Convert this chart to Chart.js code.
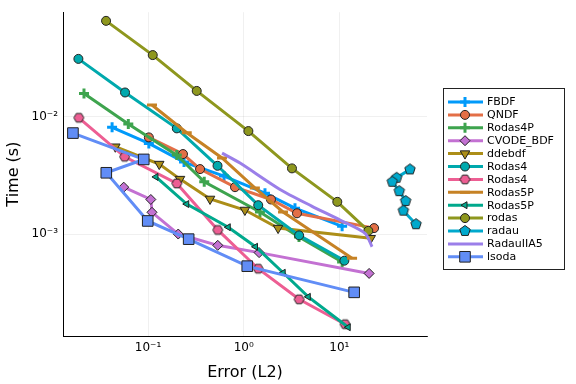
<!DOCTYPE html>
<html>
<head>
<meta charset="utf-8">
<script src="https://cdn.jsdelivr.net/npm/chart.js@4.4.0/dist/chart.umd.min.js"></script>
<style>
  html, body { margin: 0; padding: 0; background: #fff; }
  #wrap { width: 576px; height: 384px; }
</style>
</head>
<body>
<div id="wrap"><canvas id="benchChart" width="576" height="384"></canvas></div>
<script>
// work-precision data (error L2, time s)
const fbdfErr = [0.0421, 0.102, 0.238, 0.623, 1.67, 3.44, 10.7];
const fbdfTime = [0.00813, 0.00594, 0.00412, 0.00313, 0.00224, 0.00167, 0.00117];

const qndfErr = [0.102, 0.232, 0.35, 0.812, 1.93, 3.61, 23.1];
const qndfTime = [0.00668, 0.00482, 0.00359, 0.00252, 0.00198, 0.00151, 0.00113];

const rodas4pErr = [0.0214, 0.0622, 0.2, 0.387, 1.48, 3.79, 10.7];
const rodas4pTime = [0.0158, 0.00867, 0.00472, 0.0028, 0.00155, 0.000948, 0.000581];

const cvodeErr = [0.0557, 0.107, 0.11, 0.207, 0.536, 1.45, 20.5];
const cvodeTime = [0.00252, 0.00198, 0.00154, 0.001006, 0.000806, 0.000699, 0.000465];

const ddebdfErr = [0.0455, 0.131, 0.216, 0.445, 1.03, 2.29, 21.3];
const ddebdfTime = [0.00556, 0.00396, 0.00295, 0.002, 0.00161, 0.00113, 0.000926];

const rodas4Err = [0.0187, 0.0575, 0.2, 0.533, 1.42, 3.8, 11.3];
const rodas4Time = [0.0311, 0.0161, 0.00797, 0.00383, 0.00177, 0.00098, 0.000597];

const rodas4bErr = [0.0189, 0.057, 0.2, 0.536, 1.42, 3.8, 11.5];
const rodas4bTime = [0.00981, 0.00457, 0.00271, 0.00109, 0.00051, 0.00028, 0.000172];

const rodas5pErr = [0.11, 0.254, 0.594, 1.31, 2.58, 13.6];
const rodas5pTime = [0.0126, 0.00731, 0.00446, 0.00248, 0.00155, 0.000627];

const rodas5pbErr = [0.121, 0.254, 0.69, 1.33, 2.59, 4.74, 12.4];
const rodas5pbTime = [0.00308, 0.00181, 0.00115, 0.000784, 0.000471, 0.000294, 0.000162];

const rodasErr = [0.0364, 0.112, 0.323, 1.12, 3.2, 9.53, 20.1];
const rodasTime = [0.0655, 0.0335, 0.0166, 0.00756, 0.00364, 0.00189, 0.00107];

const radauErr = [54.8, 39.8, 35.8, 42.4, 49.4, 46.7, 63.4];
const radauTime = [0.00357, 0.00303, 0.0028, 0.00233, 0.00192, 0.00159, 0.00122];

const radau5Err = [0.594, 0.916, 2.4, 5.14, 10.2, 18.6, 22.0];
const radau5Time = [0.00491, 0.00404, 0.00241, 0.00174, 0.00132, 0.00102, 0.000784];

const lsodaErr = [0.0164, 0.0902, 0.0366, 0.0993, 0.266, 1.09, 14.3];
const lsodaTime = [0.00727, 0.00434, 0.00334, 0.0013, 0.00091, 0.000536, 0.000321];

const xTickValues = [0.1, 1, 10];
const xTickLabels = ["10⁻¹", "10⁰", "10¹"];
const yTickValues = [0.001, 0.01];
const yTickLabels = ["10⁻³", "10⁻²"];

Chart.defaults.font.family = "'DejaVu Sans', sans-serif";
Chart.defaults.color = "#000";

function pts(xs, ys) {
  return xs.map((x, i) => ({ x: x, y: ys[i] }));
}

// polygon markers (hexagon, pentagon) drawn on small canvases
function polyMarker(n, r, fill, rot) {
  const size = Math.ceil(r * 2 + 3);
  const cv = document.createElement("canvas");
  cv.width = size;
  cv.height = size;
  const g = cv.getContext("2d");
  g.beginPath();
  for (let k = 0; k < n; k++) {
    const a = rot + (k * 2 * Math.PI) / n;
    const px = size / 2 + r * Math.cos(a);
    const py = size / 2 + r * Math.sin(a);
    if (k === 0) g.moveTo(px, py);
    else g.lineTo(px, py);
  }
  g.closePath();
  g.fillStyle = fill;
  g.fill();
  g.lineWidth = 1;
  g.strokeStyle = "#222";
  g.stroke();
  return cv;
}

function series(label, xs, ys, color, marker) {
  return Object.assign({
    label: label,
    data: pts(xs, ys),
    showLine: true,
    borderColor: color,
    backgroundColor: color,
    borderWidth: 3,
    pointBackgroundColor: color,
    pointBorderColor: "#222",
    pointBorderWidth: 1,
    pointRadius: 4.5,
    pointHoverRadius: 4.5,
    pointStyle: "circle",
    pointRotation: 0,
    tension: 0,
  }, marker);
}

const datasets = [
  series("FBDF", fbdfErr, fbdfTime, "#009AFA", { pointStyle: "cross", pointBorderColor: "#009AFA", pointBorderWidth: 3, pointRadius: 5 }),
  series("QNDF", qndfErr, qndfTime, "#E36F47", {}),
  series("Rodas4P", rodas4pErr, rodas4pTime, "#3EA44E", { pointStyle: "cross", pointBorderColor: "#3EA44E", pointBorderWidth: 3, pointRadius: 5 }),
  series("CVODE_BDF", cvodeErr, cvodeTime, "#C371D2", { pointStyle: "rectRot", pointRadius: 5 }),
  series("ddebdf", ddebdfErr, ddebdfTime, "#AC8E18", { pointStyle: "triangle", pointRotation: 180, pointRadius: 5.5 }),
  series("Rodas4", rodas4Err, rodas4Time, "#00A9AD", {}),
  series("Rodas4", rodas4bErr, rodas4bTime, "#ED5E93", { pointStyle: polyMarker(6, 5, "#ED5E93", 0) }),
  series("Rodas5P", rodas5pErr, rodas5pTime, "#C68225", { pointStyle: "line", pointBorderColor: "#C68225", pointBorderWidth: 3, pointRadius: 5 }),
  series("Rodas5P", rodas5pbErr, rodas5pbTime, "#00A98D", { pointStyle: "triangle", pointRotation: -90, pointRadius: 4 }),
  series("rodas", rodasErr, rodasTime, "#8E971E", {}),
  series("radau", radauErr, radauTime, "#00A9CD", { pointStyle: polyMarker(5, 5.5, "#00A9CD", -Math.PI / 2) }),
  series("RadauIIA5", radau5Err, radau5Time, "#9B7FE9", { pointRadius: 0, pointHoverRadius: 0, tension: 0.25 }),
  series("lsoda", lsodaErr, lsodaTime, "#618DF6", { pointStyle: "rect", pointRadius: 7.5 }),
];
// later series drawn on top, like the original
datasets.forEach((d, i) => { d.order = -i; });

const legendBox = {
  id: "legendBox",
  afterDraw(chart) {
    const c = chart.ctx;
    const left = 443.5, top = 88.5, w = 121, h = 181, rowH = 12.9;
    c.save();
    c.fillStyle = "#fff";
    c.fillRect(left, top, w, h);
    c.strokeStyle = "#222";
    c.lineWidth = 1;
    c.strokeRect(left, top, w, h);
    c.font = "11px 'DejaVu Sans'";
    c.textBaseline = "middle";
    chart.data.datasets.forEach((ds, i) => {
      const y = top + 13.5 + i * rowH;
      c.strokeStyle = ds.borderColor;
      c.lineWidth = 3;
      c.beginPath();
      c.moveTo(448, y);
      c.lineTo(483, y);
      c.stroke();
      if (ds.pointRadius > 0) {
        c.fillStyle = ds.pointBackgroundColor;
        c.strokeStyle = ds.pointBorderColor;
        c.lineWidth = ds.pointBorderWidth;
        Chart.helpers.drawPoint(c, {
          pointStyle: ds.pointStyle,
          rotation: ds.pointRotation,
          radius: ds.pointRadius,
          borderWidth: ds.pointBorderWidth,
        }, 465, y);
      }
      c.fillStyle = "#000";
      c.fillText(ds.label, 487, y + 0.5);
    });
    c.restore();
  },
};

new Chart(document.getElementById("benchChart"), {
  type: "scatter",
  data: { datasets: datasets },
  options: {
    responsive: false,
    animation: false,
    devicePixelRatio: 1,
    layout: { padding: { left: 0, right: 149, top: 12, bottom: 0 } },
    plugins: { legend: { display: false }, tooltip: { enabled: false } },
    scales: {
      x: {
        type: "logarithmic",
        min: 0.01291,
        max: 82.6,
        afterBuildTicks: (s) => { s.ticks = xTickValues.map((v) => ({ value: v })); },
        afterFit: (s) => { s.height = 48; },
        ticks: {
          callback: (v) => xTickLabels[xTickValues.indexOf(v)],
          font: { size: 12 },
          color: "#000",
          padding: 5,
          maxRotation: 0,
          autoSkip: false,
        },
        grid: { color: "rgba(0,0,0,0.1)", lineWidth: 0.6, drawTicks: false },
        border: { display: true, color: "#000", width: 1 },
        title: { display: true, text: "Error (L2)", font: { size: 16 }, color: "#000", padding: { top: 0, bottom: 2 } },
      },
      y: {
        type: "logarithmic",
        min: 0.0001365,
        max: 0.0776,
        afterBuildTicks: (s) => { s.ticks = yTickValues.map((v) => ({ value: v })); },
        afterFit: (s) => { s.width = 63; },
        ticks: {
          callback: (v) => yTickLabels[yTickValues.indexOf(v)],
          font: { size: 12 },
          color: "#000",
          padding: 5,
          autoSkip: false,
        },
        grid: { color: "rgba(0,0,0,0.1)", lineWidth: 0.6, drawTicks: false },
        border: { display: true, color: "#000", width: 1 },
        title: { display: true, text: "Time (s)", font: { size: 16 }, color: "#000", padding: { top: 4, bottom: 0 } },
      },
    },
  },
  plugins: [legendBox],
});
</script>
</body>
</html>
